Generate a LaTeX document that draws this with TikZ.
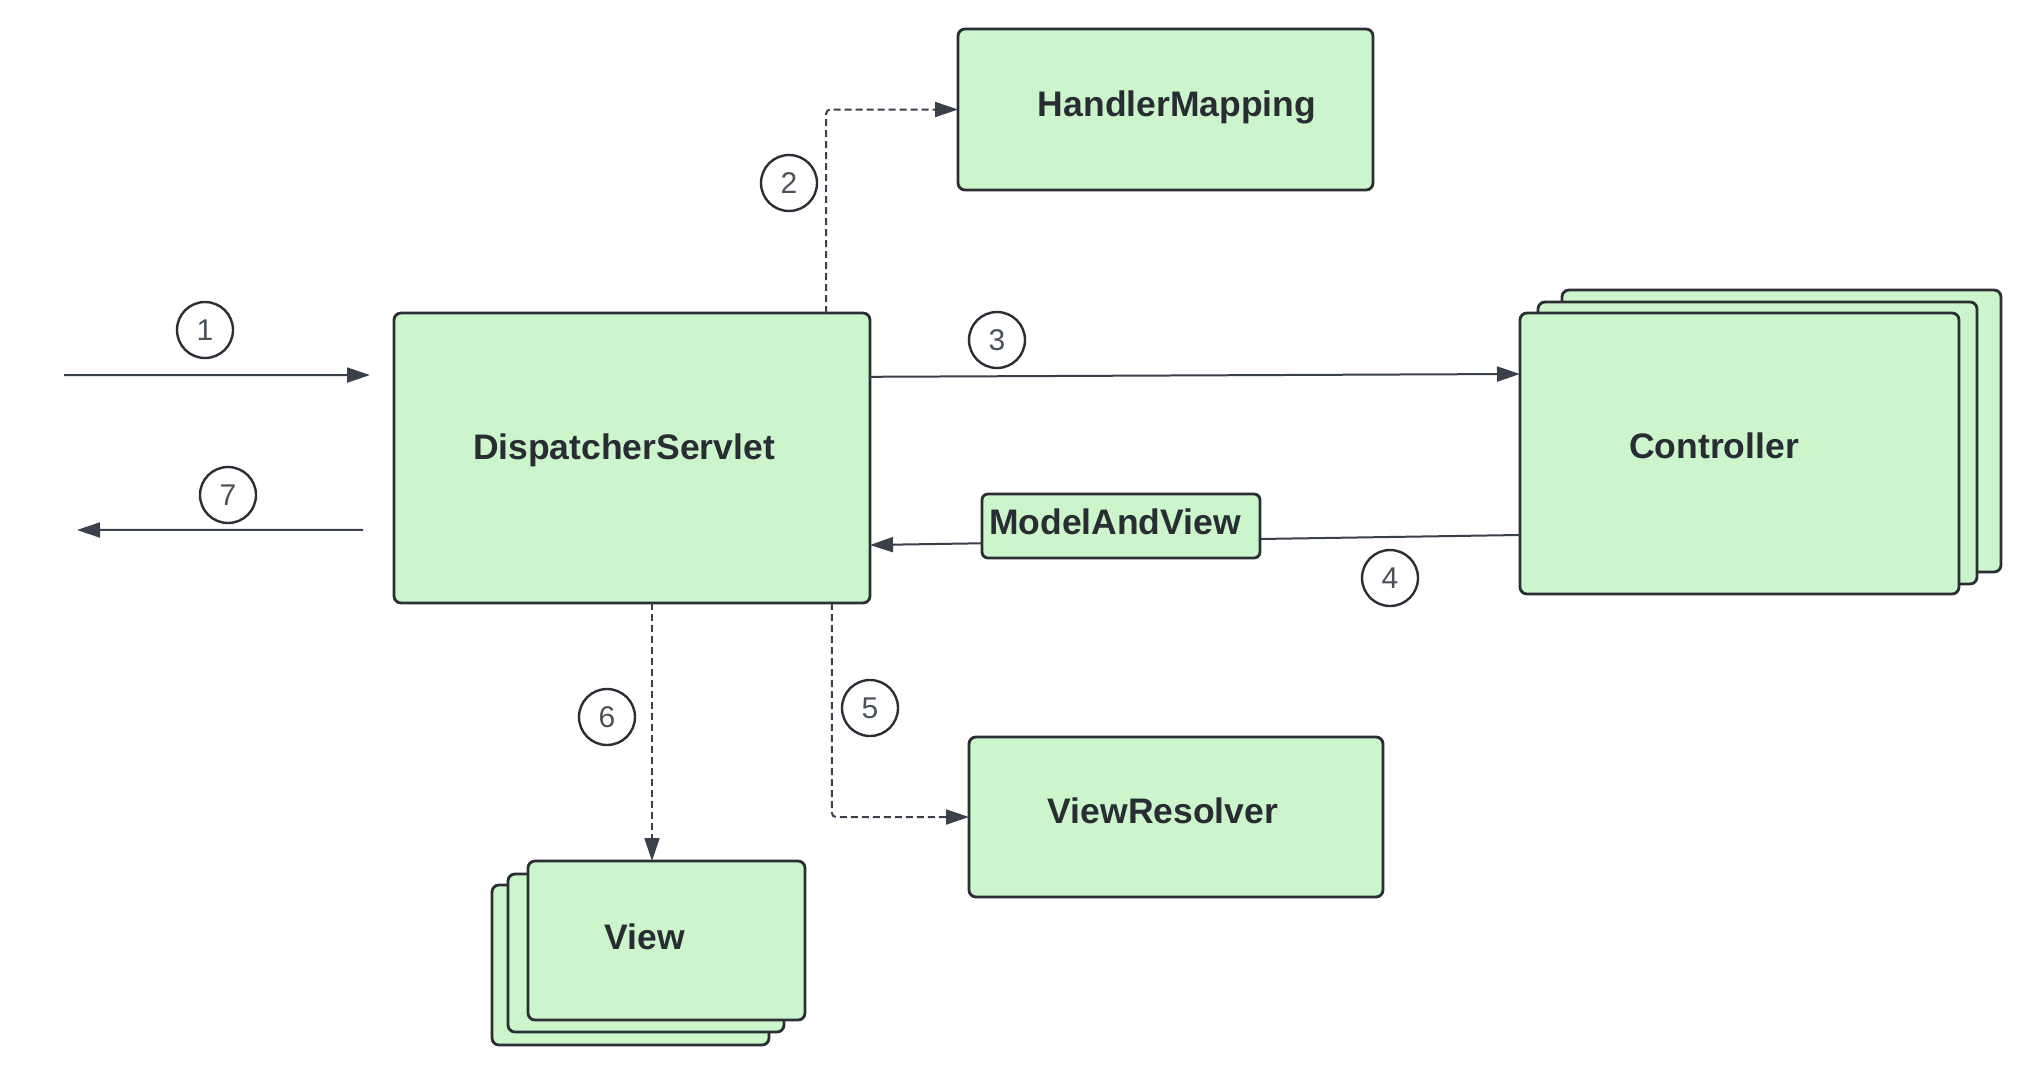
\documentclass[tikz,border=0pt]{standalone}
\usepackage{fontspec}
\setmainfont{Liberation Sans}
\usetikzlibrary{arrows.meta,calc}
\definecolor{boxfill}{HTML}{CDF5CC}
\definecolor{boxline}{HTML}{2A2F35}
\definecolor{txt}{HTML}{282C33}
\definecolor{conn}{HTML}{3A414A}
\definecolor{numc}{HTML}{4B5259}
\tikzset{
  box/.style={draw=boxline, fill=boxfill, line width=1.4pt, rounded corners=3.5pt, inner sep=0pt, outer sep=0pt},
  lbl/.style={text=txt, font=\fontsize{17.75pt}{20pt}\selectfont\bfseries, inner sep=0pt},
  num/.style={circle, draw=boxline, line width=1.2pt, minimum size=28pt, inner sep=0pt, text=numc, font=\fontsize{15pt}{17pt}\selectfont},
  conline/.style={draw=conn, line width=1pt},
  tip/.style={-{Triangle[length=11.5pt,width=7.5pt]}},
  dashline/.style={dash pattern=on 3.5pt off 2pt, rounded corners=2pt}
}
\begin{document}
\begin{tikzpicture}[x=0.5pt,y=-0.5pt]
\useasboundingbox[fill=white] (0,0) rectangle (2030,1092);
% boxes
\node[box, minimum width=238pt, minimum height=145pt] (ds) at (632,458) {};
\node[box, minimum width=207.5pt, minimum height=80.5pt] (hm) at (1165.5,109.5) {};
\node[box, minimum width=219.5pt, minimum height=141pt] (ctrl3) at (1781.5,431) {};
\node[box, minimum width=219.5pt, minimum height=141pt] (ctrl2) at (1757.5,443) {};
\node[box, minimum width=219.5pt, minimum height=140.5pt] (ctrl) at (1739.5,453.5) {};
\node[box, minimum width=207pt, minimum height=80pt] (vr) at (1176,817) {};
\node[box, minimum width=138.5pt, minimum height=80pt] (view3) at (630.5,965) {};
\node[box, minimum width=138pt, minimum height=79pt] (view2) at (646,953) {};
\node[box, minimum width=138.5pt, minimum height=79.5pt] (view) at (666.5,940.5) {};
% texts
\node[lbl] (dsT) at (624,450) {DispatcherServlet};
\node[lbl] (hmT) at (1177,107) {HandlerMapping};
\node[lbl] (ctrlT) at (1714,446) {Controller};
\node[lbl] (vrT) at (1163,811) {ViewResolver};
\node[lbl] (viewT) at (645,937) {View};
% connectors
\coordinate (src) at (64,375);
\coordinate (dst) at (77,530);
\draw[conline, tip] (src) -- ($(ds.north west)!0.214!(ds.south west)+(-24,0)$);
\draw[conline, tip] ($(ds.north west)!0.748!(ds.south west)+(-31,0)$) -- (dst);
\draw[conline, tip, dashline] ($(ds.north west)!0.908!(ds.north east)$) |- (hm.west);
\draw[conline, tip] ($(ds.north east)!0.22!(ds.south east)$) -- ($(ctrl.north west)!0.217!(ctrl.south west)$);
\draw[conline, tip] ($(ctrl.north west)!0.79!(ctrl.south west)$) -- ($(ds.north east)!0.8!(ds.south east)$);
\draw[conline, tip, dashline] ($(ds.south west)!0.92!(ds.south east)$) |- (vr.west);
\coordinate (d6) at ($(ds.south west)!0.542!(ds.south east)$);
\draw[conline, tip, dashline] (d6) -- (d6 |- view.north);
% label box on connector 4
\node[box, minimum width=139pt, minimum height=32pt, rounded corners=3pt] (mav) at (1121,526) {};
\node[lbl] (mavT) at (1115,522) {ModelAndView};
% step numbers
\node[num] (n1) at (205,330) {1};
\node[num] (n2) at (789,183) {2};
\node[num] (n3) at (997,340) {3};
\node[num] (n4) at (1390,578) {4};
\node[num] (n5) at (870,708) {5};
\node[num] (n6) at (607,717) {6};
\node[num] (n7) at (228,495) {7};
\end{tikzpicture}
\end{document}
